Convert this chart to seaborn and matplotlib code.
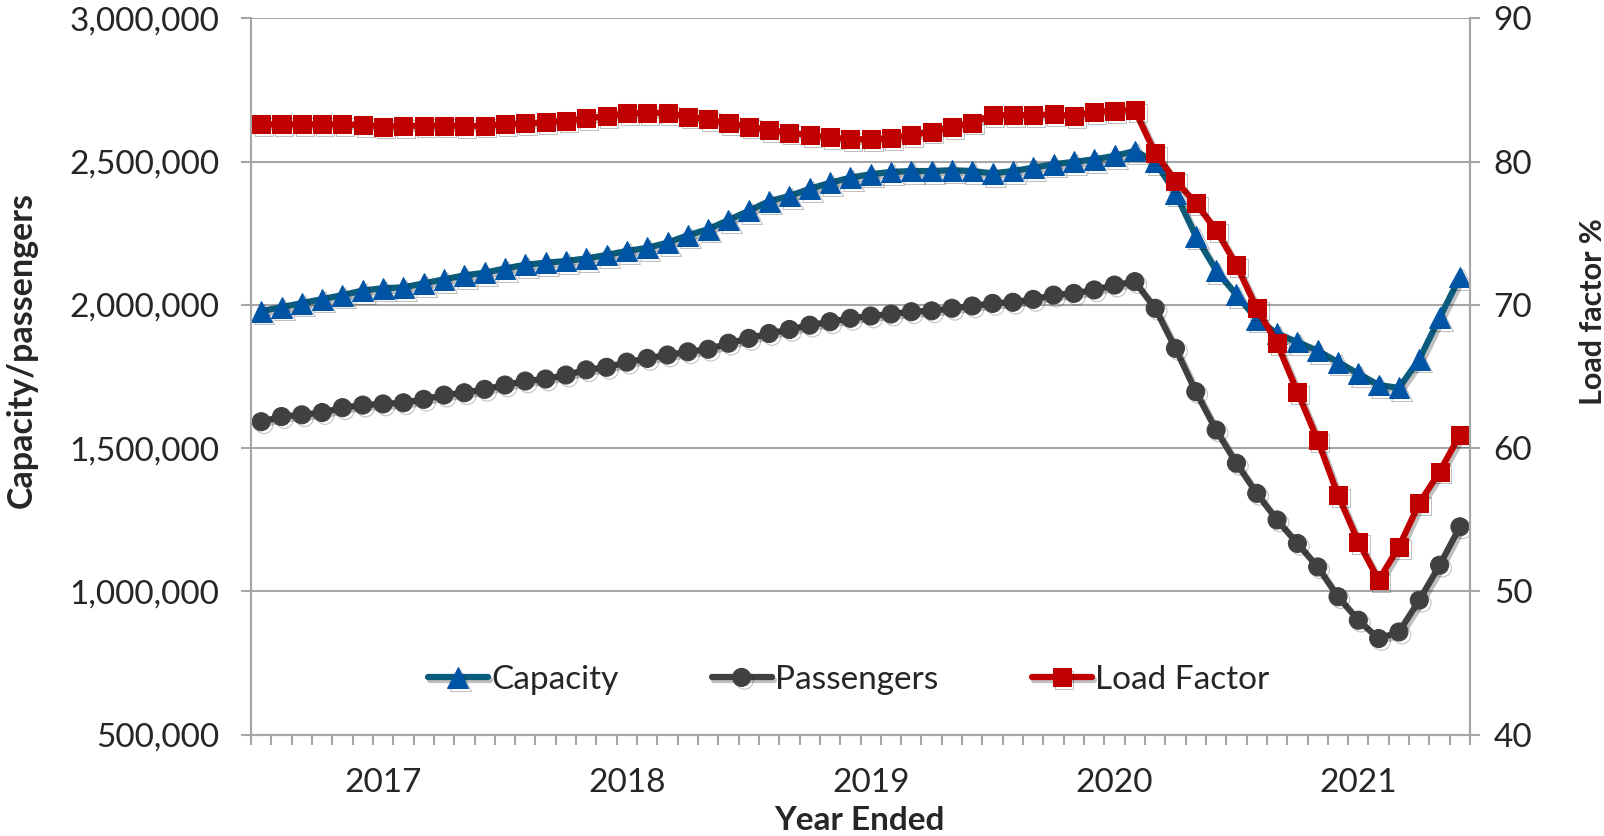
import numpy as np
import pandas as pd
import seaborn as sns
import matplotlib.pyplot as plt
import matplotlib.patheffects as pe
from matplotlib.ticker import FuncFormatter

# monthly values, year ended Jul 2016 .. Jun 2021
capacity = [1978000, 1992000, 2006000, 2020000, 2034000, 2050000, 2058000, 2061000, 2075000, 2089000,
            2103000, 2112000, 2127000, 2140000, 2147000, 2153000, 2162000, 2174000, 2188000, 2199000,
            2217000, 2243000, 2264000, 2296000, 2328000, 2362000, 2380000, 2405000, 2426000, 2444000,
            2456000, 2464000, 2467000, 2467000, 2470000, 2467000, 2459000, 2467000, 2479000, 2491000,
            2499000, 2508000, 2520000, 2537000, 2500000, 2390000, 2240000, 2120000, 2035000, 1950000,
            1900000, 1870000, 1840000, 1800000, 1760000, 1720000, 1710000, 1810000, 1955000, 2097000]
passengers = [1592000, 1610000, 1616000, 1624000, 1641000, 1650000, 1654000, 1658000, 1670000, 1685000,
              1693000, 1705000, 1720000, 1734000, 1741000, 1755000, 1773000, 1782000, 1800000, 1813000,
              1825000, 1836000, 1845000, 1866000, 1883000, 1900000, 1914000, 1929000, 1941000, 1953000,
              1961000, 1968000, 1976000, 1979000, 1988000, 1996000, 2005000, 2009000, 2019000, 2034000,
              2040000, 2052000, 2069000, 2081000, 1988000, 1848000, 1697000, 1563000, 1447000, 1342000,
              1249000, 1167000, 1085000, 981000, 899000, 835000, 858000, 969000, 1091000, 1225000]
load_factor = [82.60, 82.60, 82.60, 82.60, 82.60, 82.56, 82.44, 82.49, 82.51, 82.51,
               82.49, 82.51, 82.63, 82.67, 82.74, 82.86, 83.02, 83.18, 83.37, 83.41,
               83.41, 83.14, 82.95, 82.67, 82.44, 82.21, 82.02, 81.86, 81.70, 81.56,
               81.56, 81.63, 81.86, 82.09, 82.40, 82.72, 83.25, 83.25, 83.25, 83.30,
               83.18, 83.48, 83.55, 83.60, 80.58, 78.67, 77.09, 75.22, 72.78, 69.76,
               67.31, 63.93, 60.56, 56.72, 53.46, 50.78, 53.11, 56.14, 58.35, 60.91]
year_labels = ['2017', '2018', '2019', '2020', '2021']

df = pd.DataFrame({'month': np.arange(len(capacity)),
                   'Capacity': capacity,
                   'Passengers': passengers,
                   'Load Factor': load_factor})

sns.set_style('white')
plt.rcParams['font.family'] = ['Lato', 'DejaVu Sans']

grey = '#a6a6a6'
fig = plt.figure(figsize=(16.04, 8.36), dpi=100)
ax = fig.add_axes([0.1565, 0.1214, 0.76, 0.8566])
ax2 = ax.twinx()

shadow = [pe.SimpleLineShadow(offset=(2, -2), alpha=0.25), pe.Normal()]

sns.lineplot(data=df, x='month', y='Capacity', ax=ax, color='#0b5c7c', lw=4.5,
             marker='^', markersize=15, markerfacecolor='#0054a6', markeredgecolor='#0054a6',
             label='Capacity', legend=False, path_effects=shadow)
sns.lineplot(data=df, x='month', y='Passengers', ax=ax, color='#404040', lw=4.5,
             marker='o', markersize=13, markerfacecolor='#404040', markeredgecolor='#404040',
             label='Passengers', legend=False, path_effects=shadow)
sns.lineplot(data=df, x='month', y='Load Factor', ax=ax2, color='#c00000', lw=4.5,
             marker='s', markersize=13, markerfacecolor='#c00000', markeredgecolor='#c00000',
             label='Load Factor', legend=False, path_effects=shadow)

# left axis
ax.set_ylim(500000, 3000000)
ax.set_yticks(np.arange(500000, 3000001, 500000))
ax.yaxis.set_major_formatter(FuncFormatter(lambda v, p: f'{v:,.0f}'))
ax.yaxis.grid(True, color=grey, lw=1.5)
ax.set_axisbelow(True)
ax.tick_params(axis='y', length=7, width=1.5, color=grey, labelsize=24, pad=16, left=True)

# right axis
ax2.set_ylim(40, 90)
ax2.set_yticks(np.arange(40, 91, 10))
ax2.grid(False)
ax2.tick_params(axis='y', length=7, width=1.5, color=grey, labelsize=24, pad=10, right=True)

# x axis: year labels + monthly tick marks
ax.set_xlim(-0.5, len(capacity) - 0.5)
ax.set_xticks([6, 18, 30, 42, 54])
ax.set_xticklabels(year_labels)
ax.set_xticks(np.arange(-0.5, len(capacity), 1), minor=True)
ax.tick_params(axis='x', which='major', length=0, labelsize=24, pad=24)
ax.tick_params(axis='x', which='minor', length=7, width=1.5, color=grey, bottom=True)
ax.set_xlabel('')
ax.set_ylabel('')
ax2.set_ylabel('')

for a in (ax, ax2):
    for s in ('left', 'right', 'bottom'):
        a.spines[s].set_color(grey)
        a.spines[s].set_linewidth(1.5)
    a.spines['top'].set_visible(False)

fig.text(0.0137, 0.581, 'Capacity/passengers', rotation=90, fontsize=24.5, fontweight='bold',
         ha='center', va='center')
fig.text(0.993, 0.627, 'Load factor %', rotation=90, fontsize=22, fontweight='bold',
         ha='center', va='center')
fig.text(0.5357, 0.018, 'Year Ended', fontsize=24, fontweight='bold', ha='center', va='center')

handles = ax.get_lines()[:2] + ax2.get_lines()[:1]
ax2.legend(handles, [h.get_label() for h in handles], loc='center', bbox_to_anchor=(0.49, 0.076),
           ncol=3, frameon=False, fontsize=24, handlelength=1.8, handletextpad=0.1,
           columnspacing=2.8)

fig.savefig('out.png', dpi=100)
